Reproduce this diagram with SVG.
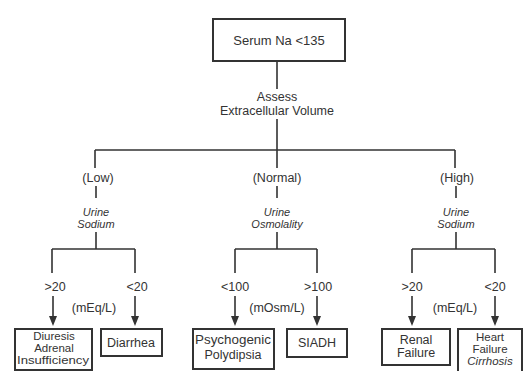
<svg xmlns="http://www.w3.org/2000/svg" width="524" height="371" viewBox="0 0 524 371">
<style>
text{font-family:"Liberation Sans",Arial,sans-serif;font-size:12.5px;fill:#333;text-anchor:middle}
.it{font-style:italic;font-size:11px}
.sm{font-size:11.5px}
.box{fill:#fff;stroke:#333;stroke-width:2}
.ln{fill:none;stroke:#333;stroke-width:1.6}
</style>
<rect width="524" height="371" fill="#fff"/>
<g id="connectors">
<path class="ln" d="M277,61 V89 M277,119 V150 M95,150 H455 M95,150 V168 M277,150 V168 M455,150 V168"/>
<path class="ln" d="M96,186 V198 M96,232 V249 M52,249 H135 M52,249 V273 M135,249 V273"/>
<path class="ln" d="M277,186 V198 M277,232 V249 M235,249 H317 M235,249 V273 M317,249 V273"/>
<path class="ln" d="M456,186 V198 M456,232 V249 M412,249 H495 M412,249 V273 M495,249 V273"/>
<path class="ln" d="M53,296 V318 M135,296 V318 M235,296 V318 M317,296 V318 M412,296 V318 M495,296 V318"/>
<path fill="#333" d="M49,316 H57 L53,326 Z M131,316 H139 L135,326 Z M231,316 H239 L235,326 Z M313,316 H321 L317,326 Z M408,316 H416 L412,326 Z M491,316 H499 L495,326 Z"/>
</g>
<g id="serum"><rect class="box" x="213" y="19" width="132" height="42"/><text x="279" y="45" style="font-size:13px">Serum Na &lt;135</text></g>
<g id="assess"><text x="277" y="101">Assess</text><text x="277" y="115">Extracellular Volume</text></g>
<g id="low"><text x="98" y="182">(Low)</text><text class="it" x="96" y="216">Urine</text><text class="it" x="96" y="228">Sodium</text></g>
<g id="normal"><text x="277" y="182">(Normal)</text><text class="it" x="277" y="216">Urine</text><text class="it" x="277" y="228">Osmolality</text></g>
<g id="high"><text x="457" y="182">(High)</text><text class="it" x="456" y="216">Urine</text><text class="it" x="456" y="228">Sodium</text></g>
<g id="low-labels"><text x="55" y="291">&gt;20</text><text x="137" y="291">&lt;20</text><text x="94" y="312">(mEq/L)</text></g>
<g id="normal-labels"><text x="235" y="291">&lt;100</text><text x="318" y="291">&gt;100</text><text x="277" y="312">(mOsm/L)</text></g>
<g id="high-labels"><text x="412" y="291">&gt;20</text><text x="495" y="291">&lt;20</text><text x="455" y="312">(mEq/L)</text></g>
<g id="diuresis"><rect class="box" x="15" y="329" width="77" height="41"/><text class="sm" x="54" y="340">Diuresis</text><text class="sm" x="54" y="352">Adrenal</text><text class="sm" x="53" y="364" textLength="72" lengthAdjust="spacingAndGlyphs">Insufficiency</text></g>
<g id="diarrhea"><rect class="box" x="101" y="329" width="61" height="27"/><text x="131" y="347">Diarrhea</text></g>
<g id="psychogenic"><rect class="box" x="193" y="329" width="81" height="40"/><text x="233" y="344" textLength="76" lengthAdjust="spacingAndGlyphs">Psychogenic</text><text x="233" y="359">Polydipsia</text></g>
<g id="siadh"><rect class="box" x="287" y="329" width="60" height="28"/><text x="317" y="347">SIADH</text></g>
<g id="renal"><rect class="box" x="382" y="329" width="68" height="36"/><text x="416" y="344">Renal</text><text x="416" y="357">Failure</text></g>
<g id="heart"><rect class="box" x="458" y="329" width="64" height="50"/><text class="sm" x="490" y="341">Heart</text><text class="sm" x="490" y="353">Failure</text><text class="sm" x="490" y="365" style="font-style:italic">Cirrhosis</text></g>
</svg>
